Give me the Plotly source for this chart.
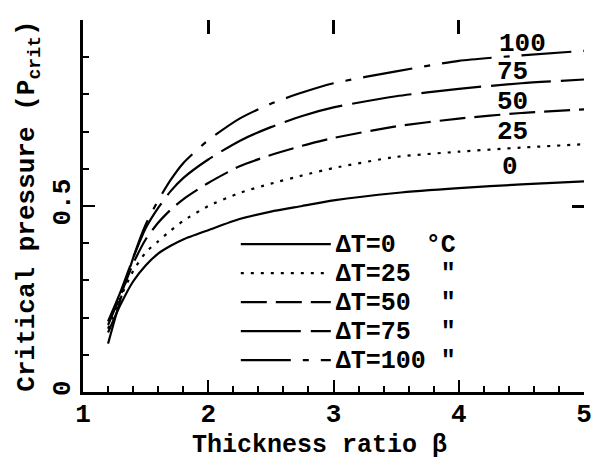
import plotly.graph_objects as go

beta = [1.2, 1.3, 1.4, 1.5, 1.6, 1.7, 1.8, 2.0, 2.25, 2.5, 2.75, 3.0, 3.5, 4.0, 4.5, 5.0]
p_dt0 = [0.16, 0.235, 0.297, 0.34, 0.372, 0.393, 0.41, 0.435, 0.465, 0.485, 0.50, 0.515, 0.535, 0.548, 0.558, 0.566]
p_dt25 = [0.17, 0.255, 0.325, 0.375, 0.405, 0.434, 0.46, 0.50, 0.535, 0.56, 0.582, 0.602, 0.632, 0.646, 0.657, 0.666]
p_dt50 = [0.18, 0.26, 0.345, 0.41, 0.455, 0.49, 0.518, 0.562, 0.607, 0.637, 0.662, 0.683, 0.714, 0.735, 0.75, 0.76]
p_dt75 = [0.19, 0.27, 0.36, 0.44, 0.495, 0.54, 0.575, 0.625, 0.675, 0.712, 0.742, 0.765, 0.795, 0.815, 0.83, 0.84]
p_dt100 = [0.13, 0.25, 0.36, 0.45, 0.515, 0.57, 0.615, 0.677, 0.735, 0.775, 0.805, 0.83, 0.862, 0.89, 0.905, 0.917]

legend_names = ["ΔT=0\u00a0\u00a0°C", "ΔT=25\u00a0\u00a0\"", "ΔT=50\u00a0\u00a0\"", "ΔT=75\u00a0\u00a0\"", "ΔT=100\u00a0\""]
series = [p_dt0, p_dt25, p_dt50, p_dt75, p_dt100]
dashes = ["solid", "3px,7px", "26px,9px", "60px,10px", "50px,12px,6px,12px"]

curve_labels = ["100", "75", "50", "25", "0"]
label_x = [4.51, 4.43, 4.43, 4.43, 4.41]
label_y = [0.935, 0.86, 0.779, 0.698, 0.606]

x_title = "Thickness ratio β"
y_title = "Critical pressure (P<sub>crit</sub>)"

FONT = "Liberation Mono"
BOLD = dict(family=FONT, size=26, color="black", weight="bold")
fig = go.Figure()
for name, ys, d in zip(legend_names, series, dashes):
    fig.add_trace(go.Scatter(x=beta, y=ys, mode="lines",
                             name='<span style="font-size:25px">' + name + '</span>',
                             line=dict(color="black", width=2.2, dash=d, shape="spline", smoothing=0.6)))

# invisible helper trace so the mirrored top/right tick axes are drawn
fig.add_trace(go.Scatter(x=beta, y=p_dt0, xaxis="x2", yaxis="y2", mode="lines",
                         line=dict(color="rgba(0,0,0,0)"), showlegend=False, hoverinfo="skip"))

for t, x, y in zip(curve_labels, label_x, label_y):
    fig.add_annotation(x=x, y=y, text=t, showarrow=False, font=BOLD)

fig.add_annotation(x=0.473, y=-0.145, xref="paper", yref="paper", text=x_title, showarrow=False,
                   xanchor="center", yanchor="middle", font=dict(family=FONT, size=25, color="black", weight="bold"))

fig.update_layout(
    width=596, height=459,
    margin=dict(l=83, r=12, t=20, b=67, autoexpand=False),
    paper_bgcolor="white", plot_bgcolor="white",
    font=BOLD,
    showlegend=True,
    legend=dict(x=0.305, y=0.45, xanchor="left", yanchor="top", bgcolor="rgba(0,0,0,0)",
                font=dict(family=FONT, size=20, weight="bold"), itemwidth=90, tracegroupgap=0),
    xaxis=dict(range=[1, 5], showgrid=False, zeroline=False, showline=True, linecolor="black", linewidth=2.5,
               ticks="inside", ticklen=12, tickwidth=2, tickcolor="black", tickvals=[1, 2, 3, 4, 5],
               minor=dict(ticks="inside", ticklen=6, tickwidth=1.5, tickcolor="black", dtick=0.2, showgrid=False),
               automargin=False, tickfont=BOLD, ticklabelstandoff=-4),
    yaxis=dict(range=[0, 1.0], showgrid=False, zeroline=False, showline=True, linecolor="black", linewidth=2.5,
               ticks="inside", ticklen=12, tickwidth=2, tickcolor="black", tickvals=[0, 0.5, 1.0],
               ticktext=["0", "0.5", "1.0"], tickangle=-90, automargin=False,
               minor=dict(ticks="inside", ticklen=6, tickwidth=1.5, tickcolor="black", dtick=0.1, showgrid=False),
               title=dict(text=y_title, standoff=6, font=BOLD),
               tickfont=BOLD),
    xaxis2=dict(range=[1, 5], overlaying="x", side="top", anchor="y", showgrid=False, zeroline=False,
                showline=False, ticks="inside", ticklen=14, tickwidth=2.5, tickcolor="black",
                tickvals=[2, 3, 4, 5], showticklabels=False, automargin=False),
    yaxis2=dict(range=[0, 1.0], overlaying="y", side="right", anchor="x", showgrid=False, zeroline=False,
                showline=False, ticks="inside", ticklen=12, tickwidth=2.5, tickcolor="black",
                tickvals=[0.5, 1.0], showticklabels=False, automargin=False),
)

fig.write_html("out.html")
